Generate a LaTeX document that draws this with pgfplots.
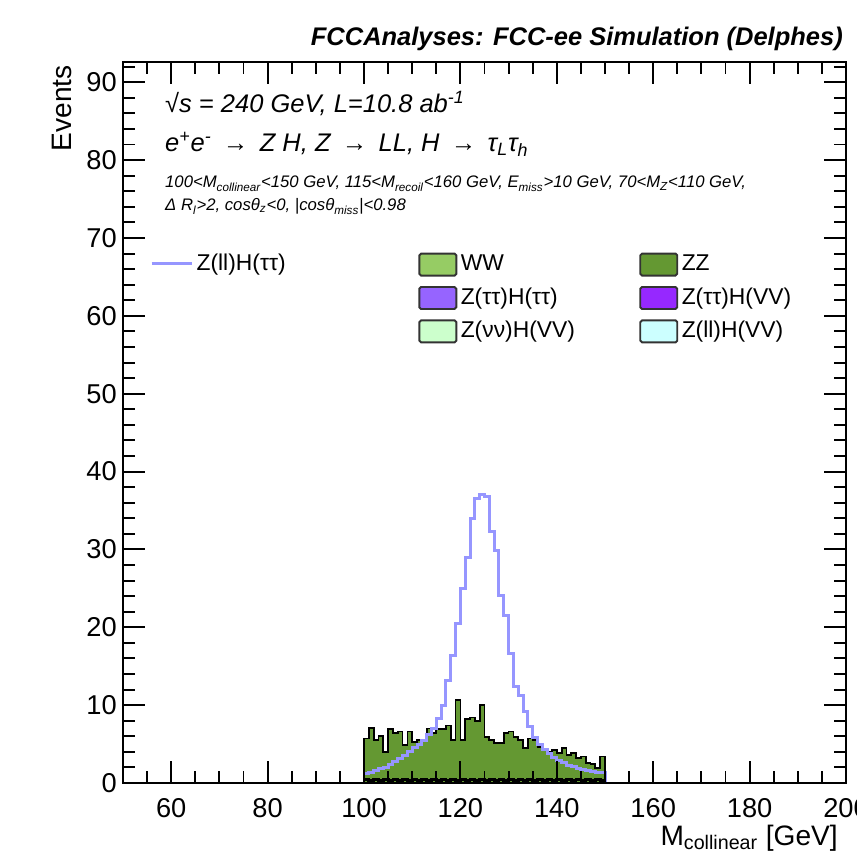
\documentclass[border=0pt]{standalone}
\usepackage{fontspec}
\setmainfont{Liberation Sans}
\usepackage{pgfplots}
\usepackage{pgfplotstable}
\pgfplotsset{compat=1.18}

\definecolor{zzgreen}{RGB}{100,152,50}
\definecolor{wwgreen}{RGB}{150,204,100}
\definecolor{ztthtt}{RGB}{150,100,255}
\definecolor{ztthvv}{RGB}{150,40,255}
\definecolor{znnhvv}{RGB}{204,255,204}
\definecolor{zllhvv}{RGB}{204,255,255}
\definecolor{sigblue}{RGB}{150,150,255}

\pgfplotstableread{
x zz bot
100 5.7 0.5
101 7.1 0.3
102 5.5 0.4
103 6.0 0.3
104 4.0 0.5
105 6.9 0.3
106 6.4 0.4
107 6.6 0.3
108 4.9 0.5
109 6.6 0.3
110 5.3 0.4
111 5.5 0.3
112 5.5 0.5
113 7.0 0.3
114 6.4 0.4
115 6.9 0.3
116 6.9 0.5
117 7.4 0.3
118 5.5 0.4
119 10.7 0.3
120 5.5 0.5
121 8.2 0.3
122 8.4 0.4
123 8.0 0.3
124 10.0 0.5
125 5.9 0.3
126 5.5 0.4
127 5.1 0.3
128 5.1 0.5
129 6.4 0.3
130 6.6 0.4
131 5.9 0.3
132 5.5 0.5
133 4.45 0.3
134 5.7 0.4
135 5.5 0.3
136 4.6 0.5
137 4.2 0.3
138 4.0 0.4
139 4.2 0.3
140 3.85 0.5
141 4.45 0.3
142 3.6 0.4
143 3.85 0.3
144 3.2 0.5
145 3.4 0.3
146 2.6 0.4
147 2.4 0.3
148 1.9 0.5
149 3.4 0.3
150 3.4 0.3
}\bkg

\pgfplotstableread{
x sig
50 0
100 1.2
101 1.35
102 1.55
103 1.8
104 2.05
105 2.35
106 2.7
107 3.1
108 3.55
109 4.0
110 4.5
111 5.0
112 5.5
113 6.2
114 7.0
115 8.3
116 10.0
117 13.2
118 16.4
119 20.5
120 25.0
121 29.0
122 34.0
123 36.6
124 37.0
125 36.8
126 32.3
127 29.8
128 24.1
129 21.5
130 16.6
131 12.4
132 11.3
133 9.2
134 7.2
135 5.9
136 4.9
137 4.3
138 3.8
139 3.3
140 2.95
141 2.6
142 2.3
143 2.1
144 1.9
145 1.75
146 1.6
147 1.5
148 1.4
149 1.3
150 0
200 0
}\sig

\begin{document}
\begin{tikzpicture}
\begin{axis}[
  scale only axis, width=14.46cm, height=14.42cm,
  xmin=50, xmax=200, ymin=0, ymax=92.6,
  xtick={40,60,...,200}, minor x tick num=3,
  ytick={0,10,...,100}, minor y tick num=4,
  tick align=inside,
  major tick length=0.44cm, minor tick length=0.24cm,
  axis line style={line width=1.1pt},
  every tick/.style={black, line width=1.1pt},
  ticklabel style={font=\fontsize{15.5}{17}\selectfont},
  xticklabel style={yshift=-0.18cm},
  /pgf/number format/assume math mode=true,
  /pgf/number format/1000 sep={},
  axis on top,
  legend columns=2,
  legend cell align=left,
  legend style={at={(0.408,0.739)}, anchor=north west, draw=none, fill=none,
    inner sep=0pt, font=\fontsize{13}{15}\selectfont, row sep=3pt,
    nodes={inner sep=2pt, text height=9.5pt, text depth=2.5pt, text width=3.3cm, align=left},
    /tikz/every even column/.append style={column sep=0.2cm}},
  legend image code/.code={\draw[#1,draw=black!80,line width=1.1pt,rounded corners=1pt] (0cm,-0.22cm) rectangle (0.74cm,0.22cm);},
]
\addplot[const plot, fill=zzgreen, draw=black, line width=1pt, forget plot] table[x=x,y=zz]{\bkg} \closedcycle;
\addplot[const plot, fill=zzgreen, draw=black, line width=1.6pt, forget plot] table[x=x,y=bot]{\bkg} \closedcycle;
\addplot[const plot, draw=sigblue, line width=1.7pt, forget plot] table[x=x,y=sig]{\sig};
\addlegendimage{fill=wwgreen}\addlegendentry{WW}
\addlegendimage{fill=zzgreen}\addlegendentry{ZZ}
\addlegendimage{fill=ztthtt}\addlegendentry{Z(ττ)H(ττ)}
\addlegendimage{fill=ztthvv}\addlegendentry{Z(ττ)H(VV)}
\addlegendimage{fill=znnhvv}\addlegendentry{Z(νν)H(VV)}
\addlegendimage{fill=zllhvv}\addlegendentry{Z(ll)H(VV)}
\end{axis}
\begin{axis}[
  scale only axis, width=14.46cm, height=14.42cm,
  xmin=50, xmax=200, ymin=0, ymax=92.6, hide axis,
  legend cell align=left,
  legend style={at={(0.037,0.72)}, anchor=west, draw=none, fill=none,
    inner sep=0pt, font=\fontsize{13}{15}\selectfont,
    nodes={inner sep=2pt, text height=9.5pt, text depth=2.5pt}},
  legend image code/.code={\draw[#1] (0cm,0cm) -- (0.8cm,0cm);},
]
\addlegendimage{sigblue, line width=1.7pt}
\addlegendentry{Z(ll)H(ττ)}
\end{axis}
\node[anchor=base east, font=\fontsize{14.5}{16}\selectfont\bfseries\itshape] at (14.52cm,14.74cm) {FCCAnalyses: FCC-ee Simulation (Delphes)};
\node[anchor=base east, font=\fontsize{16}{18}\selectfont] at (14.42cm,-1.24cm) {M\textsubscript{collinear} [GeV]};
\node[rotate=90, anchor=base east, font=\fontsize{16}{18}\selectfont] at (-1.04cm,14.48cm) {Events};
\node[anchor=base west, font=\fontsize{14.5}{16}\selectfont\itshape] at (0.72cm,13.4cm) {√s = 240 GeV, L=10.8 ab\textsuperscript{-1}};
\node[anchor=base west, font=\fontsize{14.5}{16}\selectfont\itshape] at (0.72cm,12.62cm) {e\textsuperscript{+}e\textsuperscript{-} \,→\, Z H, Z \,→\, LL, H \,→\, τ\textsubscript{L}τ\textsubscript{h}};
\node[anchor=base west, font=\fontsize{9.5}{11}\selectfont\itshape] at (0.72cm,11.9cm) {100<M\textsubscript{collinear}<150 GeV, 115<M\textsubscript{recoil}<160 GeV, E\textsubscript{miss}>10 GeV, 70<M\textsubscript{Z}<110 GeV,};
\node[anchor=base west, font=\fontsize{9.5}{11}\selectfont\itshape] at (0.72cm,11.44cm) {Δ R\textsubscript{l}>2, cosθ\textsubscript{z}<0, |cosθ\textsubscript{miss}|<0.98};
\pgfresetboundingbox
\path[use as bounding box] (-2.46cm,-1.52cm) rectangle (14.66cm,15.66cm);
\end{tikzpicture}
\end{document}
